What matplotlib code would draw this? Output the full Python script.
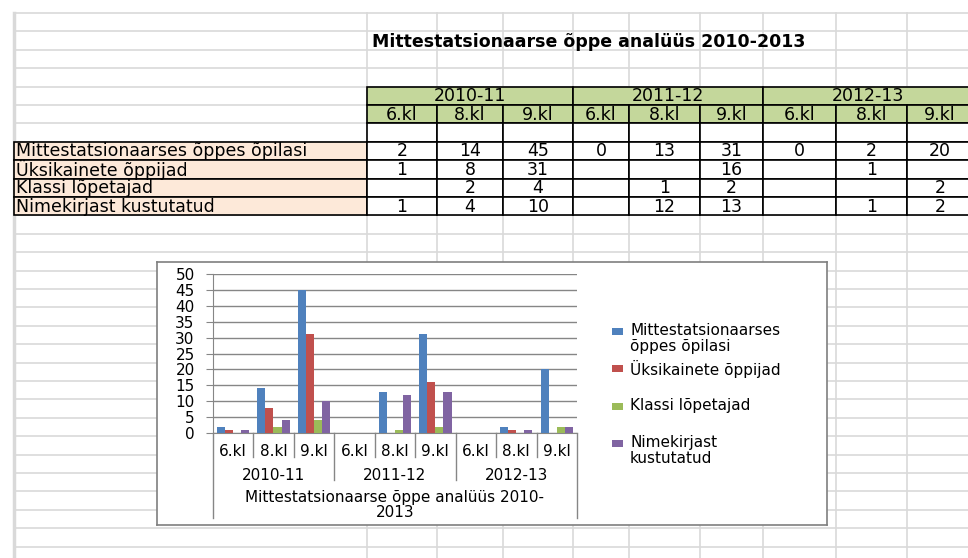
import textwrap
import numpy as np
import matplotlib
matplotlib.use('Agg')
import matplotlib.pyplot as plt
from matplotlib.patches import Rectangle

plt.rcParams['font.family'] = ['DejaVu Sans']

# data
title = 'Mittestatsionaarse õppe analüüs 2010-2013'
years = ['2010-11', '2011-12', '2012-13']
grades = ['6.kl', '8.kl', '9.kl']
series_names = ['Mittestatsionaarses õppes õpilasi', 'Üksikainete õppijad',
                'Klassi lõpetajad', 'Nimekirjast kustutatud']
pupils = [2, 14, 45, 0, 13, 31, 0, 2, 20]
single_subject = [1, 8, 31, None, None, 16, None, 1, None]
graduates = [None, 2, 4, None, 1, 2, None, None, 2]
removed = [1, 4, 10, None, 12, 13, None, 1, 2]
series_values = [pupils, single_subject, graduates, removed]
colors = ['#4F81BD', '#C0504D', '#9BBB59', '#8064A2']

# sheet layout (pixels)
W, H = 968, 558
row_h = 18.4
row0 = 13
col_a = (14, 367)
col_edges = [367, 437, 503, 573, 629, 700, 763, 836, 907, 973]
grid_c = '#D9D9D9'
fs_sheet = 12.5
fs_chart = 11

fig = plt.figure(figsize=(W / 100, H / 100), dpi=100)
sheet = fig.add_axes([0, 0, 1, 1])
sheet.set_xlim(0, W)
sheet.set_ylim(H, 0)
sheet.axis('off')

# worksheet grid
n_rows = 30
for k in range(n_rows):
    y = row0 + k * row_h
    sheet.plot([col_a[0], W], [y, y], color=grid_c, lw=1.2, zorder=1)
sheet.plot([col_a[0], col_a[0]], [row0, H], color=grid_c, lw=2.5, zorder=1)
for x in col_edges[:-1]:
    sheet.plot([x, x], [row0, H], color=grid_c, lw=1.2, zorder=1)

sheet.text(372, row0 + 1.6 * row_h, title, fontsize=fs_sheet, fontweight='bold',
           va='center', ha='left', zorder=5)


def row_y(k):
    return row0 + k * row_h


# header rows (green)
hdr_top = row_y(4)
for i, yr in enumerate(years):
    x0, x1 = col_edges[3 * i], col_edges[3 * i + 3]
    sheet.add_patch(Rectangle((x0, hdr_top), x1 - x0, row_h, facecolor='#C4D79B',
                              edgecolor='black', lw=1.2, zorder=3))
    sheet.text((x0 + x1) / 2, hdr_top + row_h / 2 + 0.5, yr, fontsize=fs_sheet,
               ha='center', va='center', zorder=5)
    for j, g in enumerate(grades):
        c0, c1 = col_edges[3 * i + j], col_edges[3 * i + j + 1]
        sheet.add_patch(Rectangle((c0, hdr_top + row_h), c1 - c0, row_h,
                                  facecolor='#C4D79B', edgecolor='black', lw=1.2, zorder=3))
        sheet.text((c0 + c1) / 2, hdr_top + 1.5 * row_h + 0.5, g, fontsize=fs_sheet,
                   ha='center', va='center', zorder=5)
        sheet.add_patch(Rectangle((c0, hdr_top + 2 * row_h), c1 - c0, row_h,
                                  facecolor='white', edgecolor='black', lw=1.2, zorder=3))

# data rows
for r, (name, vals) in enumerate(zip(series_names, series_values)):
    y0 = row_y(7 + r)
    sheet.add_patch(Rectangle((col_a[0], y0), col_a[1] - col_a[0], row_h,
                              facecolor='#FDE9D9', edgecolor='black', lw=1.2, zorder=3))
    sheet.text(col_a[0] + 2, y0 + row_h / 2 + 0.5, name, fontsize=fs_sheet,
               ha='left', va='center', zorder=5)
    for c, v in enumerate(vals):
        c0, c1 = col_edges[c], col_edges[c + 1]
        sheet.add_patch(Rectangle((c0, y0), c1 - c0, row_h, facecolor='white',
                                  edgecolor='black', lw=1.2, zorder=3))
        if v is not None:
            sheet.text((c0 + c1) / 2, y0 + row_h / 2 + 0.5, str(v), fontsize=fs_sheet,
                       ha='center', va='center', zorder=5)

# chart object: its own white axes on top of the sheet
cx0, cx1, cy0, cy1 = 157, 827, 262, 525
box = fig.add_axes([cx0 / W, 1 - cy1 / H, (cx1 - cx0) / W, (cy1 - cy0) / H], zorder=5)
box.set_facecolor('white')
box.set_xticks([])
box.set_yticks([])
box.set_xlim(cx0, cx1)
box.set_ylim(cy1, cy0)
for sp in box.spines.values():
    sp.set_color('#7F7F7F')
    sp.set_linewidth(1.2)

px0, px1, py_top, py_bot = 212.7, 577, 274, 433
ax = fig.add_axes([px0 / W, 1 - py_bot / H, (px1 - px0) / W, (py_bot - py_top) / H],
                  zorder=10)
ax.set_facecolor('none')

n = len(pupils)
x = np.arange(n)
bw = 0.2
for s, (vals, col) in enumerate(zip(series_values, colors)):
    h = [np.nan if v is None else v for v in vals]
    ax.bar(x + (s - 1.5) * bw, h, width=bw, color=col, zorder=3)

ax.set_xlim(-0.5, n - 0.5)
ax.set_ylim(0, 50)
ax.set_yticks(np.arange(0, 51, 5))
ax.yaxis.grid(True, color='#868686', lw=1)
ax.set_axisbelow(True)
for sp in ['top', 'right']:
    ax.spines[sp].set_visible(False)
for sp in ['left', 'bottom']:
    ax.spines[sp].set_color('#868686')
ax.tick_params(axis='y', length=5, color='#868686', labelsize=fs_chart, pad=8)
ax.set_xticks([])

# multi-level category axis
tr = ax.get_xaxis_transform()
ph = py_bot - py_top


def fy(px):
    return -(px - py_bot) / ph


for i in range(n + 1):
    b = i - 0.5
    if i in (0, n):
        bottom = 518
    elif i % 3 == 0:
        bottom = 480
    else:
        bottom = 457
    ax.plot([b, b], [0, fy(bottom)], transform=tr, color='#868686', lw=1, clip_on=False)
for i in range(n):
    ax.text(i, fy(451), grades[i % 3], transform=tr, ha='center', va='center',
            fontsize=fs_chart)
for i, yr in enumerate(years):
    ax.text(3 * i + 1, fy(475), yr, transform=tr, ha='center', va='center',
            fontsize=fs_chart)
ax.text((n - 1) / 2, fy(505), 'Mittestatsionaarse õppe analüüs 2010-\n2013',
        transform=tr, ha='center', va='center', fontsize=fs_chart, linespacing=1.0)

# legend
leg_y = [331, 368, 406, 443]
for name, col, ly in zip(series_names, colors, leg_y):
    box.add_patch(Rectangle((612, ly - 3.5), 11, 7, facecolor=col, edgecolor='none'))
    box.text(630, ly - 8, textwrap.fill(name, 20), fontsize=fs_chart, ha='left',
             va='top', linespacing=1.05)

fig.savefig('out.png', dpi=100)
